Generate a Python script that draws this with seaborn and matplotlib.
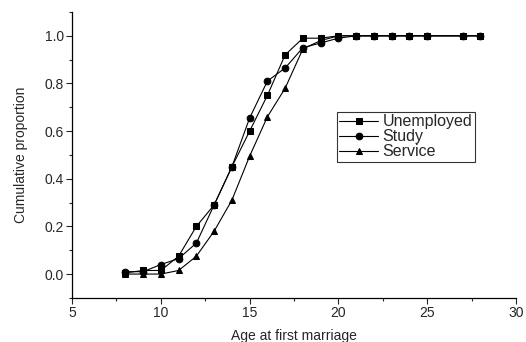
import pandas as pd
import seaborn as sns
from matplotlib import pyplot as plt
from matplotlib.ticker import MultipleLocator

ages = [8, 9, 10, 11, 12, 13, 14, 15, 16, 17, 18, 19, 20, 21, 22, 23, 24, 25, 27, 28]
unemployed = [0.005, 0.015, 0.015, 0.075, 0.20, 0.29, 0.45, 0.60, 0.75, 0.92, 0.99, 0.99,
              1.0, 1.0, 1.0, 1.0, 1.0, 1.0, 1.0, 1.0]
study = [0.01, 0.01, 0.04, 0.065, 0.13, 0.29, 0.45, 0.655, 0.81, 0.865, 0.95, 0.97,
         0.99, 1.0, 1.0, 1.0, 1.0, 1.0, 1.0, 1.0]
service = [0.0, 0.0, 0.0, 0.015, 0.075, 0.18, 0.31, 0.495, 0.66, 0.78, 0.945, 0.98,
           1.0, 1.0, 1.0, 1.0, 1.0, 1.0, 1.0, 1.0]
groups = ['Unemployed', 'Study', 'Service']

df = pd.concat([
    pd.DataFrame({'age': ages, 'prop': vals, 'group': g})
    for g, vals in zip(groups, [unemployed, study, service])
])

sns.set_style('ticks')
plt.rcParams['font.family'] = ['Liberation Sans', 'DejaVu Sans']

fig = plt.figure(figsize=(5.26, 3.42), dpi=100)
ax = fig.add_axes([0.137, 0.129, 0.844, 0.836])
sns.lineplot(data=df, x='age', y='prop', style='group', hue='group',
             palette=['black'] * 3, markers={'Unemployed': 's', 'Study': 'o', 'Service': '^'},
             dashes=False, markersize=4.8, linewidth=0.8, markeredgecolor='black', ax=ax)
sns.despine(ax=ax, top=True, right=True)

ax.set_xlim(5, 30)
ax.set_ylim(-0.1, 1.1)
ax.set_xticks([5, 10, 15, 20, 25, 30])
ax.set_yticks([0.0, 0.2, 0.4, 0.6, 0.8, 1.0])
ax.xaxis.set_minor_locator(MultipleLocator(2.5))
ax.yaxis.set_minor_locator(MultipleLocator(0.1))
ax.tick_params(which='major', direction='out', length=4, width=0.8, labelsize=10, pad=2)
ax.tick_params(which='minor', direction='out', length=2, width=0.8)
for s in ax.spines.values():
    s.set_linewidth(0.9)
    s.set_color('black')

ax.set_xlabel('Age at first marriage', fontsize=10, labelpad=6)
ax.set_ylabel('Cumulative proportion', fontsize=10, labelpad=12)

handles, labels = ax.get_legend_handles_labels()
leg = ax.legend(handles, labels, loc='upper left', bbox_to_anchor=(0.597, 0.65),
                frameon=True, fancybox=False, edgecolor='black', fontsize=11.5,
                borderaxespad=0, handlelength=2.4, handletextpad=0.3,
                labelspacing=0.0, borderpad=0.15)
leg.get_frame().set_linewidth(0.8)

plt.savefig('out.png', dpi=100)
